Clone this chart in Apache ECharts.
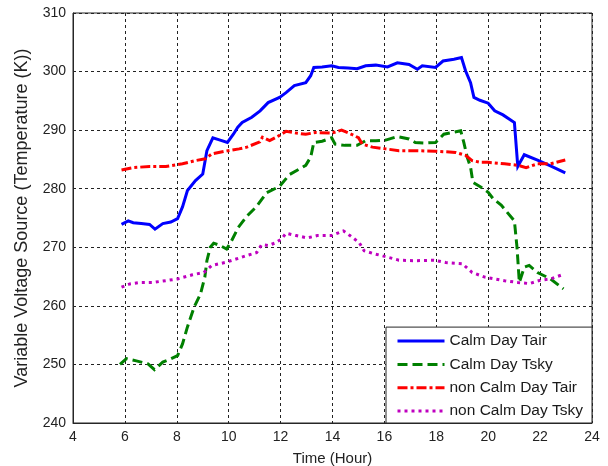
<!DOCTYPE html>
<html>
<head>
<meta charset="utf-8">
<script src="https://cdn.jsdelivr.net/npm/echarts@6/dist/echarts.min.js"></script>
<style>
html,body{margin:0;padding:0;background:#fff;}
#chart{width:608px;height:466px;}
</style>
</head>
<body>
<div id="chart"></div>
<script>
// Series names
const seriesNames = ['Calm Day Tair', 'Calm Day Tsky', 'non Calm Day Tair', 'non Calm Day Tsky'];

// Calm Day Tair (blue, solid)
const calmTairHours = [5.87,6.13,6.32,6.63,6.95,7.16,7.46,7.77,8.03,8.22,8.41,8.72,9.0,9.16,9.39,9.67,9.95,10.18,10.35,10.52,10.89,11.21,11.52,11.96,12.21,12.53,12.97,13.16,13.28,13.6,13.97,14.23,14.6,14.95,15.28,15.67,16.12,16.5,16.95,17.27,17.46,17.97,18.26,18.68,18.97,19.13,19.32,19.45,19.68,20.0,20.25,20.57,21.01,21.14,21.39,21.9,22.4,22.97];
const calmTairK     = [273.9,274.5,274.2,274.05,273.9,273.1,274.05,274.3,274.9,276.9,279.7,281.4,282.5,286.5,288.7,288.3,287.9,289.3,290.5,291.3,292.2,293.3,294.7,295.6,296.4,297.6,298.1,299.3,300.7,300.8,301.0,300.7,300.6,300.5,301.0,301.1,300.8,301.5,301.2,300.4,301.0,300.7,301.8,302.1,302.4,300.1,298.1,295.6,295.1,294.6,293.3,292.6,291.3,283.8,285.8,284.9,283.9,282.7];

// Calm Day Tsky (green, dashed)
const calmTskyHours = [5.81,6.06,6.44,6.89,7.14,7.46,7.77,8.03,8.22,8.41,8.67,8.91,9.08,9.16,9.29,9.42,9.67,9.92,10.11,10.37,10.7,11.08,11.46,11.96,12.34,12.97,13.16,13.28,13.6,13.97,14.1,14.48,14.95,15.28,15.67,16.05,16.5,16.95,17.19,17.59,17.97,18.29,18.62,18.94,19.06,19.19,19.32,19.41,19.71,20.0,20.19,20.5,21.01,21.11,21.2,21.39,21.58,21.9,22.4,22.9];
const calmTskyK     = [250.0,251.0,250.6,250.1,249.1,250.4,250.95,251.5,253.5,256.4,259.8,262.0,264.9,267.7,270.0,270.7,270.3,269.7,271.1,273.4,275.3,277.0,279.3,280.4,282.4,284.0,285.4,287.9,288.1,288.7,287.6,287.4,287.4,288.2,288.2,288.3,288.9,288.5,287.9,287.8,287.9,289.3,289.6,289.9,287.9,285.4,283.7,281.1,280.3,279.4,278.3,277.2,274.5,270.0,264.0,266.6,266.9,265.7,264.6,262.9];

// non Calm Day Tair (red, dash-dot)
const nonCalmTairHours = [5.87,6.32,6.95,7.58,8.22,8.72,9.1,9.35,9.86,10.4,10.7,11.2,11.3,11.58,11.96,12.21,12.6,12.97,13.35,13.97,14.35,14.73,15.0,15.15,15.54,16.05,16.56,17.2,17.97,18.74,19.13,19.38,19.71,20.0,20.63,21.14,21.46,21.9,22.4,22.97];
const nonCalmTairK     = [283.2,283.6,283.8,283.8,284.25,284.8,285.1,285.95,286.4,286.8,287.1,288.0,288.8,288.2,289.1,289.8,289.5,289.3,289.6,289.5,290.0,289.3,288.7,287.6,287.1,286.8,286.5,286.5,286.4,286.2,285.7,284.8,284.5,284.5,284.25,284.0,283.6,284.25,284.25,284.9];

// non Calm Day Tsky (magenta, dotted)
const nonCalmTskyHours = [5.87,6.19,6.57,7.08,7.58,8.03,8.6,9.04,9.35,9.86,10.43,10.7,11.08,11.27,11.52,11.77,12.03,12.21,12.6,13.03,13.41,13.97,14.42,14.67,15.03,15.22,15.6,16.05,16.56,17.2,17.91,18.36,19.0,19.38,19.87,20.63,21.14,21.58,22.03,22.4,22.85];
const nonCalmTskyK     = [263.2,263.75,264.0,264.0,264.3,264.6,265.3,265.7,266.9,267.4,268.2,268.6,269.1,270.45,270.3,270.7,271.4,272.4,272.0,271.6,272.0,272.0,272.8,272.0,270.8,269.4,268.9,268.4,267.8,267.7,267.8,267.4,267.2,265.7,264.9,264.3,264.0,263.8,264.4,264.6,265.3];

// Axis ranges / ticks
const xTicks = [4,6,8,10,12,14,16,18,20,22,24];
const yTicks = [240,250,260,270,280,290,300,310];
const xAxisTitle = 'Time (Hour)';
const yAxisTitle = 'Variable Voltage Source (Temperature (K))';

function pairs(xs, ys){ return xs.map((x,i)=>[x, ys[i]]); }

const FONT = "'Liberation Sans', Arial, sans-serif";
const chart = echarts.init(document.getElementById('chart'), null, {renderer:'canvas'});

const mk = (name, xs, ys, color, type) => ({
  name, type:'line', data: pairs(xs, ys), symbol:'none', showSymbol:false, smooth:false,
  lineStyle:{color, width:3, type, cap:'butt', join:'miter'},
  itemStyle:{color},
  emphasis:{disabled:true}
});

chart.setOption({
  animation:false,
  backgroundColor:'#fff',
  grid:{left:73, top:13, right:16, bottom:43, containLabel:false, outerBoundsMode:'none',
        show:true, borderColor:'#262626', borderWidth:1, backgroundColor:'transparent'},
  xAxis:{
    type:'value', min:xTicks[0], max:xTicks[xTicks.length-1], interval:2,
    name:xAxisTitle, nameLocation:'middle', nameGap:28,
    nameTextStyle:{fontFamily:FONT, fontSize:15, color:'#222'},
    axisLine:{show:true, lineStyle:{color:'#262626', width:1}},
    axisTick:{show:false},
    axisLabel:{fontFamily:FONT, fontSize:14, color:'#222', margin:7},
    splitLine:{show:true, lineStyle:{color:'#222', width:1, type:[3,3]}}
  },
  yAxis:{
    type:'value', min:yTicks[0], max:yTicks[yTicks.length-1], interval:10,
    name:yAxisTitle, nameLocation:'middle', nameGap:42,
    nameTextStyle:{fontFamily:FONT, fontSize:18, color:'#222'},
    axisLine:{show:true, lineStyle:{color:'#262626', width:1}},
    axisTick:{show:false},
    axisLabel:{fontFamily:FONT, fontSize:14, color:'#222', margin:7},
    splitLine:{show:true, lineStyle:{color:'#222', width:1, type:[3,3]}}
  },
  legend:{
    orient:'vertical', left:386, bottom:43,
    itemWidth:47, itemHeight:15, itemGap:7.3,
    padding:[6,9,4,10],
    backgroundColor:'#fff', borderColor:'#262626', borderWidth:1,
    textStyle:{fontFamily:FONT, fontSize:15.5, color:'#1a1a1a'},
    lineStyle:{width:3},
    itemStyle:{color:'rgba(0,0,0,0)', borderWidth:0, opacity:0},
    data:seriesNames
  },
  series:[
    mk(seriesNames[0], calmTairHours, calmTairK, '#0000FF', 'solid'),
    mk(seriesNames[1], calmTskyHours, calmTskyK, '#008000', [10,5]),
    mk(seriesNames[2], nonCalmTairHours, nonCalmTairK, '#FF0000', [10,3,3,3]),
    mk(seriesNames[3], nonCalmTskyHours, nonCalmTskyK, '#BF00BF', [3,4])
  ]
});
</script>
</body>
</html>
